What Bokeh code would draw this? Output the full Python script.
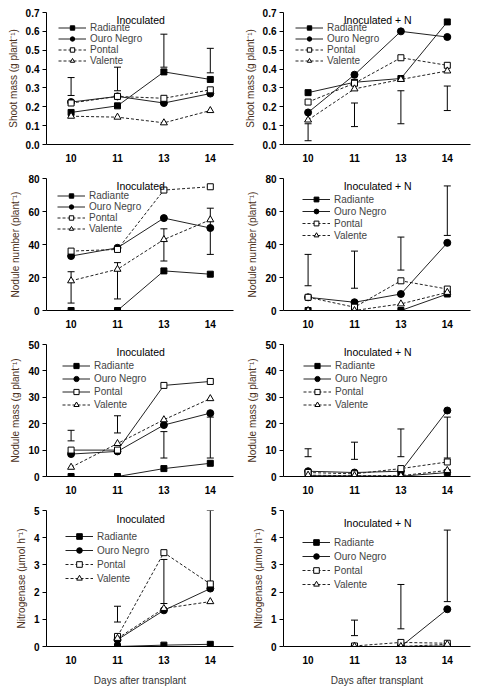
import numpy as np
from bokeh.plotting import figure
from bokeh.models import (ColumnDataSource, Range1d, FixedTicker, Whisker, TeeHead,
                          Legend, LegendItem, Label)
from bokeh.layouts import gridplot
from bokeh.embed import file_html
from bokeh.resources import INLINE

nan = float("nan")

# days after transplant (categories, evenly spaced on the axis)
days = [10, 11, 13, 14]
cultivars = ["Radiante", "Ouro Negro", "Pontal", "Valente"]

# shoot mass (g plant-1)
shoot_inoc = {
    "Radiante": [0.17, 0.205, 0.385, 0.345],
    "Ouro Negro": [0.225, 0.255, 0.22, 0.27],
    "Pontal": [0.22, 0.255, 0.245, 0.29],
    "Valente": [0.15, 0.145, 0.115, 0.18],
}
shoot_inoc_err = ([0.26, 0.285, 0.41, 0.38], [0.355, 0.41, 0.585, 0.51])
shoot_n = {
    "Radiante": [0.275, 0.33, 0.35, 0.65],
    "Ouro Negro": [0.17, 0.37, 0.60, 0.57],
    "Pontal": [0.225, 0.325, 0.46, 0.42],
    "Valente": [0.13, 0.295, 0.345, 0.39],
}
shoot_n_err = ([0.02, 0.095, 0.11, 0.18], [0.11, 0.22, 0.285, 0.31])

# nodule number (plant-1)
nodnum_inoc = {
    "Radiante": [0, 0, 24, 22],
    "Ouro Negro": [33, 38, 56, 50],
    "Pontal": [36, 37, 73, 75],
    "Valente": [18, 25, 43, 55],
}
nodnum_inoc_err = ([4.5, 7, 30, 34], [23.5, 29, 49.5, 62])
nodnum_n = {
    "Radiante": [0, 0, 0, 10],
    "Ouro Negro": [8, 5, 10, 41],
    "Pontal": [8, 2, 18, 13],
    "Valente": [0, 0, 4, 11],
}
nodnum_n_err = ([15, 13.5, 24.5, 45.5], [34, 36, 44.5, 75.5])

# nodule mass (g plant-1)
nodmass_inoc = {
    "Radiante": [0, 0, 3, 5],
    "Ouro Negro": [8.5, 9.5, 19.5, 24],
    "Pontal": [10, 10, 34.5, 36],
    "Valente": [3.5, 12.5, 21.5, 29.5],
}
nodmass_inoc_err = ([13.5, 16.5, 7, 7], [17.5, 23, 17, 22.5])
nodmass_n = {
    "Radiante": [0.3, 0.2, 0.1, 1.5],
    "Ouro Negro": [2, 1.5, 2, 25],
    "Pontal": [1.5, 1, 3, 5.5],
    "Valente": [0.5, 0.3, 0.3, 2.3],
}
nodmass_n_err = ([7.5, 6.5, 7.5, 7], [10.5, 13, 18, 22.5])

# nitrogenase (umol h-1)
nase_inoc = {
    "Radiante": [nan, 0, 0.05, 0.08],
    "Ouro Negro": [nan, 0.25, 1.33, 2.13],
    "Pontal": [nan, 0.37, 3.45, 2.3],
    "Valente": [nan, 0.3, 1.4, 1.65],
}
nase_inoc_err = ([nan, 0.9, 1.58, 2.3], [nan, 1.48, 3.2, 5.0])
nase_n = {
    "Radiante": [nan, 0, 0, 0.02],
    "Ouro Negro": [nan, 0, 0, 1.37],
    "Pontal": [nan, 0.02, 0.15, 0.12],
    "Valente": [nan, 0, 0, 0.08],
}
nase_n_err = ([nan, 0.4, 0.65, 1.65], [nan, 0.97, 2.28, 4.28])

FONT = "Liberation Sans"
LABEL_COLOR = "#4a3020"
FW = 187  # frame width

STYLE = {
    "Radiante": dict(marker="square", size=6, fill="black", dash="solid"),
    "Ouro Negro": dict(marker="circle", size=7, fill="black", dash="solid"),
    "Pontal": dict(marker="square", size=6, fill="white", dash="dashed"),
    "Valente": dict(marker="triangle", size=7, fill="white", dash="dashed"),
}


def panel(series, err, title, ylabel, ymax, ystep, bottom=False, solid_pontal=False,
          leg_dx=12, leg_dy=9, row_h=11, title_dy=2):
    fh = 136 if bottom else 132
    p = figure(frame_width=FW, frame_height=fh, output_backend="svg", toolbar_location=None,
               x_range=Range1d(-0.53, 3.5), y_range=Range1d(0, ymax),
               min_border_left=46, min_border_right=4, min_border_top=12,
               min_border_bottom=36 if bottom else 22)
    p.outline_line_color = None
    p.grid.visible = False
    p.background_fill_color = "white"

    xs = list(range(len(days)))
    yticks = [round(float(t), 3) for t in np.arange(0, ymax + ystep / 2, ystep)]
    p.xaxis.ticker = FixedTicker(ticks=xs)
    p.xaxis.major_label_overrides = {i: str(d) for i, d in enumerate(days)}
    p.xaxis.major_tick_line_color = None
    p.xaxis.minor_tick_line_color = None
    p.yaxis.ticker = FixedTicker(ticks=yticks)
    p.yaxis.minor_tick_line_color = None
    p.yaxis.major_tick_line_color = "black"
    p.yaxis.major_tick_in = 0
    p.yaxis.major_tick_out = 4
    if ystep < 1:
        p.yaxis.major_label_overrides = {t: f"{t:.1f}" for t in yticks}
    for ax in (p.xaxis, p.yaxis):
        ax.axis_line_color = "black"
        ax.major_label_text_font = FONT
        ax.major_label_text_font_size = "10px"
        ax.major_label_text_font_style = "bold"
        ax.major_label_text_color = "black"
        ax.major_label_standoff = 3
    p.yaxis.axis_label = ylabel
    p.yaxis.axis_label_text_font = FONT
    p.yaxis.axis_label_text_font_size = "10px"
    p.yaxis.axis_label_text_font_style = "normal"
    p.yaxis.axis_label_text_color = LABEL_COLOR
    p.yaxis.axis_label_standoff = 4
    if bottom:
        p.xaxis.axis_label = "Days after transplant"
        p.xaxis.axis_label_text_font = FONT
        p.xaxis.axis_label_text_font_size = "10px"
        p.xaxis.axis_label_text_font_style = "normal"
        p.xaxis.axis_label_text_color = "#333333"
        p.xaxis.axis_label_standoff = 8

    # error bars
    src_err = ColumnDataSource(dict(x=xs, lower=err[0], upper=err[1]))
    wh = Whisker(base="x", lower="lower", upper="upper", source=src_err, dimension="height",
                 line_color="black", line_width=1,
                 upper_head=TeeHead(size=7, line_color="black", line_width=1),
                 lower_head=TeeHead(size=7, line_color="black", line_width=1))
    p.add_layout(wh)

    items = []
    for name in cultivars:
        st = STYLE[name]
        dash = st["dash"]
        if solid_pontal and name == "Pontal":
            dash = "solid"
        src = ColumnDataSource(dict(x=xs, y=series[name]))
        lr = p.line("x", "y", source=src, line_color="#222222", line_width=1,
                    line_dash="3 2" if dash == "dashed" else "solid")
        sr = p.scatter("x", "y", source=src, marker=st["marker"], size=st["size"],
                       fill_color=st["fill"], line_color="black", line_width=1)
        items.append(LegendItem(label=name, renderers=[lr, sr]))

    # tuple location is the legend's bottom-left corner, measured from the frame's bottom-left
    leg_h = len(items) * row_h
    leg = Legend(items=items, location=(leg_dx, fh - leg_dy - leg_h), margin=0, padding=0,
                 spacing=0, border_line_alpha=0, background_fill_alpha=0,
                 glyph_width=28, glyph_height=row_h, label_height=row_h,
                 label_text_font=FONT, label_text_font_size="10px",
                 label_standoff=4)
    p.add_layout(leg)

    # panel title kept fully inside the frame (text would be clipped at the frame top)
    p.add_layout(Label(x=1.5, y=ymax, text=title, text_font=FONT, text_font_size="10.5px",
                       text_align="center", text_baseline="top",
                       y_offset=-max(title_dy - 4, 1), text_color="black"))
    return p


p1 = panel(shoot_inoc, shoot_inoc_err, "Inoculated", "Shoot mass (g plant\u207b\u00b9)", 0.7, 0.1,
           leg_dx=12, leg_dy=10, row_h=11, title_dy=2)
p2 = panel(shoot_n, shoot_n_err, "Inoculated + N", "Shoot mass (g plant\u207b\u00b9)", 0.7, 0.1,
           leg_dx=12, leg_dy=10, row_h=11, title_dy=2)
p3 = panel(nodnum_inoc, nodnum_inoc_err, "Inoculated", "Nodule number (plant\u207b\u00b9)", 80, 20,
           leg_dx=11, leg_dy=12, row_h=11, title_dy=2)
p4 = panel(nodnum_n, nodnum_n_err, "Inoculated + N", "Nodule number (plant\u207b\u00b9)", 80, 20,
           leg_dx=19, leg_dy=15, row_h=12, title_dy=3)
p5 = panel(nodmass_inoc, nodmass_inoc_err, "Inoculated", "Nodule mass (g plant\u207b\u00b9)", 50, 10,
           solid_pontal=True, leg_dx=16, leg_dy=15, row_h=13, title_dy=2)
p6 = panel(nodmass_n, nodmass_n_err, "Inoculated + N", "Nodule mass (g plant\u207b\u00b9)", 50, 10,
           leg_dx=20, leg_dy=15, row_h=13, title_dy=5)
p7 = panel(nase_inoc, nase_inoc_err, "Inoculated", "Nitrogenase (\u00b5mol h\u207b\u00b9)", 5, 1,
           bottom=True, leg_dx=19, leg_dy=19, row_h=14, title_dy=6)
p8 = panel(nase_n, nase_n_err, "Inoculated + N", "Nitrogenase (\u00b5mol h\u207b\u00b9)", 5, 1,
           bottom=True, leg_dx=19, leg_dy=25, row_h=14, title_dy=10)

grid = gridplot([[p1, p2], [p3, p4], [p5, p6], [p7, p8]], toolbar_location=None)

open("out.html", "w").write(file_html(grid, INLINE))
